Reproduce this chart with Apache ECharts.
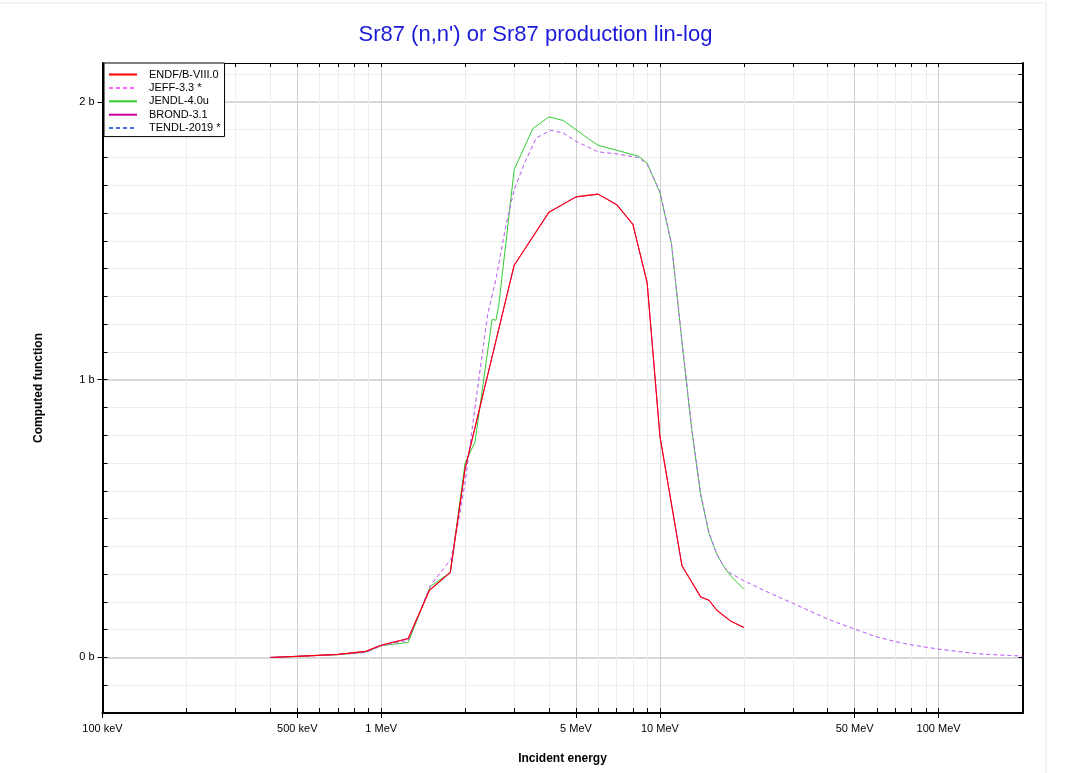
<!DOCTYPE html>
<html><head><meta charset="utf-8">
<script src="https://cdn.jsdelivr.net/npm/echarts@6/dist/echarts.min.js"></script>
<style>html,body{margin:0;padding:0;background:#fff}#c{width:1071px;height:773px}</style>
</head><body><div id="c"></div>
<script>
// ---- data (energies in eV, values in barns) ----
const endfE = [4.0e5, 5e5, 7e5, 8.8e5, 1.0e6, 1.25e6, 1.49e6, 1.77e6, 2.0e6, 3.0e6, 4.0e6, 5.0e6, 6.0e6, 7.0e6, 8.0e6, 9.0e6, 1.0e7, 1.2e7, 1.4e7, 1.5e7, 1.6e7, 1.8e7, 2.0e7];
const endfV = [0.0, 0.004, 0.011, 0.022, 0.044, 0.068, 0.242, 0.306, 0.68, 1.412, 1.603, 1.658, 1.668, 1.630, 1.559, 1.349, 0.797, 0.33, 0.218, 0.206, 0.170, 0.130, 0.108];

const brondE = endfE.slice();
const brondV = endfV.slice();

const jendlE = [4.0e5, 5e5, 7e5, 8.8e5, 1.0e6, 1.25e6, 1.5e6, 1.77e6, 2.0e6, 2.17e6, 2.5e6, 2.58e6, 2.64e6, 3.0e6, 3.5e6, 4.0e6, 4.5e6, 5.0e6, 5.6e6, 6.0e6, 7.0e6, 8.4e6, 9.0e6, 1.0e7, 1.1e7, 1.2e7, 1.3e7, 1.4e7, 1.5e7, 1.6e7, 1.7e7, 1.8e7, 2.0e7];
const jendlV = [0.0, 0.004, 0.010, 0.019, 0.042, 0.054, 0.255, 0.306, 0.70, 0.775, 1.217, 1.214, 1.265, 1.756, 1.904, 1.946, 1.933, 1.900, 1.864, 1.844, 1.826, 1.804, 1.780, 1.673, 1.490, 1.135, 0.821, 0.585, 0.446, 0.372, 0.325, 0.292, 0.246];

const jeffE = [4.0e5, 5e5, 7e5, 8.8e5, 1.0e6, 1.25e6, 1.5e6, 1.78e6, 1.88e6, 2.0e6, 2.19e6, 2.41e6, 2.58e6, 2.8e6, 3.0e6, 3.27e6, 3.6e6, 4.06e6, 4.5e6, 5.0e6, 6.0e6, 7.0e6, 8.4e6, 9.0e6, 1.0e7, 1.1e7, 1.2e7, 1.3e7, 1.4e7, 1.5e7, 1.6e7, 1.7e7, 1.8e7, 2.0e7, 2.5e7, 3.0e7, 4.0e7, 5.0e7, 6.0e7, 7.0e7, 8.0e7, 1.0e8, 1.3e8, 1.5e8, 2.0e8];
const jeffV = [0.0, 0.004, 0.010, 0.018, 0.042, 0.062, 0.258, 0.354, 0.473, 0.63, 0.929, 1.235, 1.361, 1.553, 1.685, 1.780, 1.870, 1.898, 1.888, 1.858, 1.820, 1.813, 1.799, 1.775, 1.678, 1.490, 1.140, 0.830, 0.590, 0.450, 0.372, 0.325, 0.302, 0.276, 0.230, 0.195, 0.138, 0.102, 0.074, 0.057, 0.045, 0.030, 0.016, 0.011, 0.005];

const tendlE = jeffE.slice();
const tendlV = jeffV.slice();

// ---- axis ticks ----
const xMajorTicks = [1e5, 5e5, 1e6, 5e6, 1e7, 5e7, 1e8];
const xTickLabels = ['100 keV', '500 keV', '1 MeV', '5 MeV', '10 MeV', '50 MeV', '100 MeV'];
const xMinorTicks = [2e5, 3e5, 4e5, 6e5, 7e5, 8e5, 9e5, 2e6, 3e6, 4e6, 6e6, 7e6, 8e6, 9e6, 2e7, 3e7, 4e7, 6e7, 7e7, 8e7, 9e7];
const xMin = 1e5, xMax = 2e8;
const yMajorTicks = [0, 1, 2];
const yTickLabels = ['0 b', '1 b', '2 b'];
const yMinorTicks = [-0.1, 0.1, 0.2, 0.3, 0.4, 0.5, 0.6, 0.7, 0.8, 0.9, 1.1, 1.2, 1.3, 1.4, 1.5, 1.6, 1.7, 1.8, 1.9, 2.1];
const yMin = -0.2, yMax = 2.14;

const FONT = '"Liberation Sans", Arial, sans-serif';
const lx0 = Math.log10(xMin), lx1 = Math.log10(xMax);
const lgMajor = xMajorTicks.map(Math.log10);
const lgMinor = xMinorTicks.map(Math.log10);
const lgAll = lgMinor.concat(lgMajor);
const yAll = yMinorTicks.concat(yMajorTicks);

function pairs(E, V) { return E.map((e, i) => [e, V[i]]); }
function nearestLabel(ticks, labels, v) {
  let best = 0;
  for (let i = 1; i < ticks.length; i++) if (Math.abs(ticks[i] - v) < Math.abs(ticks[best] - v)) best = i;
  return labels[best];
}

const chart = echarts.init(document.getElementById('c'), null, {renderer: 'canvas'});
chart.setOption({
  animation: false,
  backgroundColor: '#fff',
  textStyle: {fontFamily: FONT},
  title: {
    text: "Sr87 (n,n') or Sr87 production lin-log",
    left: 'center', top: 19,
    textStyle: {fontFamily: FONT, fontSize: 22, fontWeight: 'normal', color: '#1a1ad8'}
  },
  graphic: [{
    type: 'rect', shape: {x: -2, y: 3, width: 1048, height: 800},
    style: {fill: 'none', stroke: '#e8e8e8', lineWidth: 1}, silent: true, z: -1
  }],
  legend: {
    orient: 'vertical', left: 104, top: 63,
    padding: [6, 4, 3, 4],
    backgroundColor: '#fff', borderColor: '#000', borderWidth: 1,
    itemWidth: 28, itemHeight: 11, itemGap: 2.4,
    data: ['ENDF/B-VIII.0', 'JEFF-3.3 *', 'JENDL-4.0u', 'BROND-3.1', 'TENDL-2019 *'],
    textStyle: {fontFamily: FONT, fontSize: 11, color: '#000', padding: [0, 0, 0, 7]},
    itemStyle: {opacity: 0},
    lineStyle: {width: 2, opacity: 1},
    z: 10
  },
  grid: {left: 102.5, right: 48.5, top: 63, bottom: 60, containLabel: false},
  xAxis: [
    {type: 'log', logBase: 10, min: xMin, max: xMax, show: false, axisLine: {onZero: false}},
    {type: 'value', min: lx0, max: lx1, position: 'bottom',
      axisLine: {show: false, onZero: false},
      axisTick: {show: true, inside: true, length: 5, customValues: lgAll, lineStyle: {color: '#000'}},
      axisLabel: {show: false},
      splitLine: {show: true, lineStyle: {color: '#ededed', width: 1}}},
    {type: 'value', min: lx0, max: lx1, position: 'bottom',
      axisLine: {show: true, onZero: false, lineStyle: {color: '#000', width: 2}},
      axisTick: {show: true, inside: false, length: 5, customValues: lgMajor, lineStyle: {color: '#000'}},
      axisLabel: {show: true, customValues: lgMajor, margin: 10, fontSize: 11, color: '#000', fontFamily: FONT,
        formatter: function (v) { return nearestLabel(lgMajor, xTickLabels, v); }},
      splitLine: {show: true, lineStyle: {color: '#cfcfcf', width: 1}},
      name: 'Incident energy', nameLocation: 'middle', nameGap: 40,
      nameTextStyle: {fontFamily: FONT, fontSize: 12, fontWeight: 'bold', color: '#000'}},
    {type: 'value', min: lx0, max: lx1, position: 'top',
      axisLine: {show: true, onZero: false, lineStyle: {color: '#000', width: 1}},
      axisTick: {show: true, inside: true, length: 4, customValues: lgAll, lineStyle: {color: '#000'}},
      axisLabel: {show: false}, splitLine: {show: false}}
  ],
  yAxis: [
    {type: 'value', min: yMin, max: yMax, show: false, axisLine: {onZero: false}},
    {type: 'value', min: yMin, max: yMax, position: 'left',
      axisLine: {show: false, onZero: false},
      axisTick: {show: true, inside: true, length: 5, customValues: yAll, lineStyle: {color: '#000'}},
      axisLabel: {show: false},
      splitLine: {show: true, lineStyle: {color: '#ededed', width: 1}}},
    {type: 'value', min: yMin, max: yMax, position: 'left',
      axisLine: {show: true, onZero: false, lineStyle: {color: '#000', width: 2}},
      axisTick: {show: true, inside: false, length: 5, customValues: yMajorTicks, lineStyle: {color: '#000'}},
      axisLabel: {show: true, customValues: yMajorTicks, margin: 8, fontSize: 11, color: '#000', fontFamily: FONT,
        formatter: function (v) { return nearestLabel(yMajorTicks, yTickLabels, v); }},
      splitLine: {show: true, lineStyle: {color: '#cfcfcf', width: 1.5}},
      name: 'Computed function', nameLocation: 'middle', nameGap: 58,
      nameTextStyle: {fontFamily: FONT, fontSize: 12, fontWeight: 'bold', color: '#000'}},
    {type: 'value', min: yMin, max: yMax, position: 'right',
      axisLine: {show: true, onZero: false, lineStyle: {color: '#000', width: 2}},
      axisTick: {show: true, inside: true, length: 4, customValues: yAll, lineStyle: {color: '#000'}},
      axisLabel: {show: false}, splitLine: {show: false}}
  ],
  series: [
    {name: 'JENDL-4.0u', type: 'line', xAxisIndex: 0, yAxisIndex: 0, data: pairs(jendlE, jendlV),
      symbol: 'none', lineStyle: {color: '#33cc33', width: 1}, itemStyle: {color: '#33cc33'}},
    {name: 'JEFF-3.3 *', type: 'line', xAxisIndex: 0, yAxisIndex: 0, data: pairs(jeffE, jeffV),
      symbol: 'none', lineStyle: {color: '#ff66ff', width: 1, type: [4, 3]}, itemStyle: {color: '#ff66ff'}},
    {name: 'TENDL-2019 *', type: 'line', xAxisIndex: 0, yAxisIndex: 0, data: pairs(tendlE, tendlV),
      symbol: 'none', lineStyle: {color: '#4a6ee0', width: 1, type: [4, 3], opacity: 0.4}, itemStyle: {color: '#4a6ee0'}},
    {name: 'BROND-3.1', type: 'line', xAxisIndex: 0, yAxisIndex: 0, data: pairs(brondE, brondV),
      symbol: 'none', lineStyle: {color: '#cc0099', width: 1}, itemStyle: {color: '#cc0099'}},
    {name: 'ENDF/B-VIII.0', type: 'line', xAxisIndex: 0, yAxisIndex: 0, data: pairs(endfE, endfV),
      symbol: 'none', lineStyle: {color: '#ff0000', width: 1.1, opacity: 0.9}, itemStyle: {color: '#ff0000'}}
  ]
});
</script></body></html>
